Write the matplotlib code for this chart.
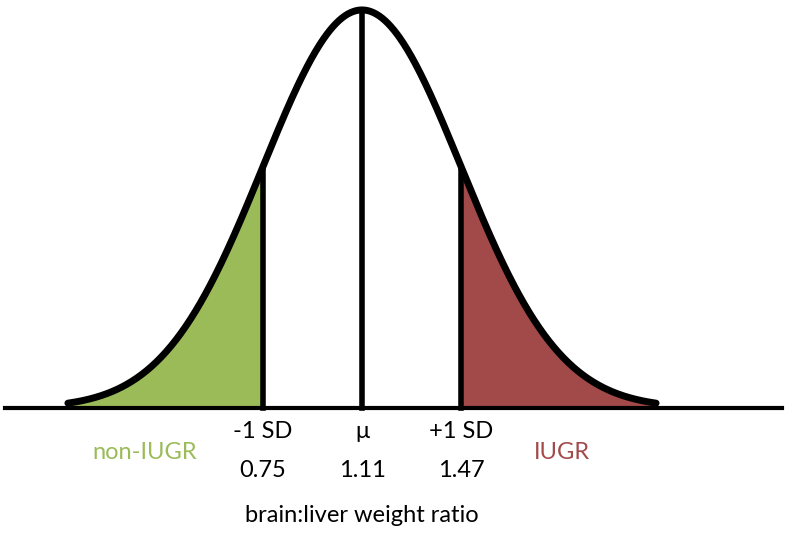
import numpy as np
import matplotlib.pyplot as plt

mean = 1.11
sd = 0.36
lower_val = 0.75
upper_val = 1.47
tail_sd = 2.97
marker_labels = ["-1 SD", "μ", "+1 SD"]
marker_values = [lower_val, mean, upper_val]
group_labels = ["non-IUGR", "IUGR"]
group_colors = ["#9BBB59", "#A24A4A"]
xlabel = "brain:liver weight ratio"

plt.rcParams['font.family'] = ['Lato', 'DejaVu Sans']

fig = plt.figure(figsize=(7.9, 5.33), dpi=100)
ax = fig.add_axes([0, 0, 1, 1])
ax.set_xlim(-0.206, 2.666)
ax.set_ylim(-0.314, 1.025)
ax.axis('off')

x = np.linspace(mean - tail_sd * sd, mean + tail_sd * sd, 600)
y = np.exp(-0.5 * ((x - mean) / sd) ** 2)

ml = x <= lower_val
ax.fill_between(x[ml], 0, y[ml], color=group_colors[0], lw=0)
mr = x >= upper_val
ax.fill_between(x[mr], 0, y[mr], color=group_colors[1], lw=0)

ax.plot(x, y, color='black', lw=5, solid_capstyle='round', zorder=3)
ax.plot([-0.188, 2.637], [0, 0], color='black', lw=3, zorder=4)

for v in marker_values:
    h = np.exp(-0.5 * ((v - mean) / sd) ** 2)
    ax.plot([v, v], [0, h], color='black', lw=4, zorder=3)

fs = 17
for lab, v in zip(marker_labels, marker_values):
    ax.text(v, -0.060, lab, ha='center', va='center', fontsize=fs)
    ax.text(v, -0.156, f"{v:.2f}", ha='center', va='center', fontsize=fs)

ax.text(0.321, -0.113, group_labels[0], ha='center', va='center', fontsize=fs, color=group_colors[0])
ax.text(1.837, -0.113, group_labels[1], ha='center', va='center', fontsize=fs, color=group_colors[1])
ax.text(mean, -0.269, xlabel, ha='center', va='center', fontsize=fs)

fig.savefig('out.png', dpi=100)
